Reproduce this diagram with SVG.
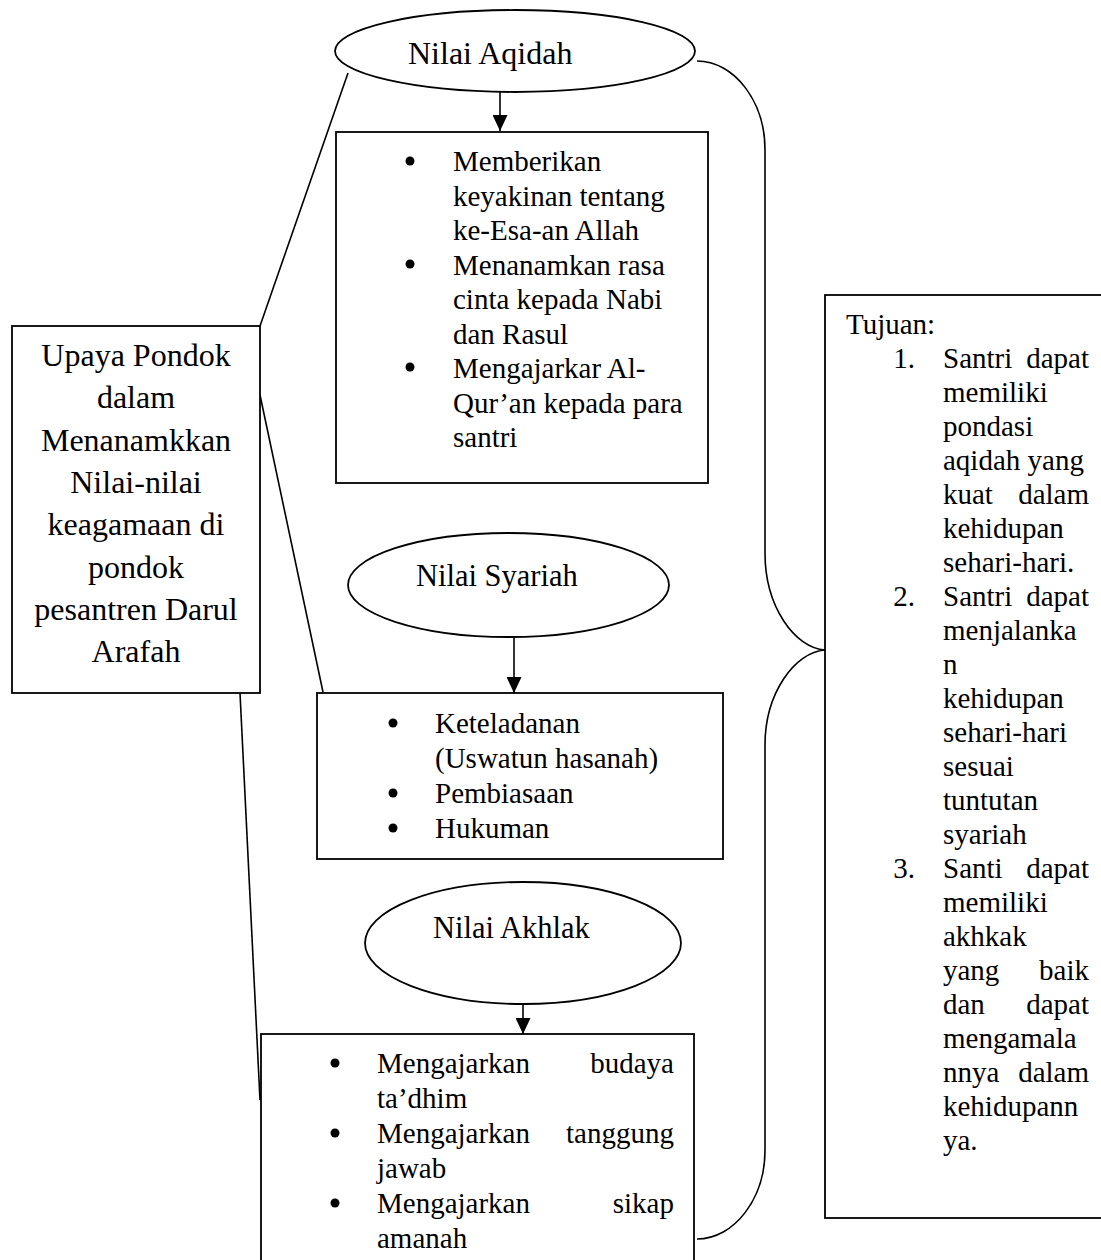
<svg xmlns="http://www.w3.org/2000/svg" width="1101" height="1260" viewBox="0 0 1101 1260">
<style>
.box{fill:#fff;stroke:#000;stroke-width:1.8}
.ell{fill:#fff;stroke:#000;stroke-width:1.8}
.ln{fill:none;stroke:#000;stroke-width:1.6}
text{font-family:"Liberation Serif","Times New Roman",serif;fill:#000}
.t32{font-size:32px}
.t30{font-size:30.5px}
.t29{font-size:29px}
.c{text-anchor:middle}
.e{text-anchor:end}
.dot{fill:#000}
</style>
<defs>
<marker id="ah" markerUnits="userSpaceOnUse" markerWidth="16" markerHeight="15" refX="16" refY="7.5" orient="auto">
<path d="M0,0 L16,7.5 L0,15 z" fill="#000"/>
</marker>
</defs>
<rect width="1101" height="1260" fill="#fff"/>

<g id="connectors">
<line class="ln" x1="260" y1="326" x2="348" y2="73"/>
<line class="ln" x1="260" y1="395" x2="323" y2="692"/>
<line class="ln" x1="240" y1="693" x2="260" y2="1100"/>
<path class="ln" d="M697,61 C734,61 765,101 765,150 L765,553 C765,607 795,648 825,650 C795,652 765,693 765,745 L765,1150 C765,1199 734,1239 697,1239"/>
<line class="ln" x1="500" y1="80" x2="500" y2="131" marker-end="url(#ah)"/>
<line class="ln" x1="514" y1="637" x2="514" y2="693" marker-end="url(#ah)"/>
<line class="ln" x1="523" y1="1004" x2="523" y2="1034" marker-end="url(#ah)"/>
</g>

<g id="nilai-aqidah">
<ellipse class="ell" cx="515" cy="51" rx="180" ry="41"/>
<text class="t32" x="408" y="64">Nilai Aqidah</text>
</g>

<g id="aqidah-list">
<rect class="box" x="336" y="132" width="372" height="351"/>
<circle class="dot" cx="410" cy="161" r="4.5"/>
<circle class="dot" cx="410" cy="264" r="4.5"/>
<circle class="dot" cx="410" cy="367" r="4.5"/>
<text class="t29" x="453" y="171">Memberikan</text>
<text class="t29" x="453" y="205.5">keyakinan tentang</text>
<text class="t29" x="453" y="240">ke-Esa-an Allah</text>
<text class="t29" x="453" y="274.5">Menanamkan rasa</text>
<text class="t29" x="453" y="309">cinta kepada Nabi</text>
<text class="t29" x="453" y="343.5">dan Rasul</text>
<text class="t29" x="453" y="378">Mengajarkar Al-</text>
<text class="t29" x="453" y="412.5">Qur’an kepada para</text>
<text class="t29" x="453" y="447">santri</text>
</g>

<g id="upaya-pondok">
<rect class="box" x="12" y="326" width="248" height="367"/>
<text class="t32 c" x="136" y="366">Upaya Pondok</text>
<text class="t32 c" x="136" y="408.3">dalam</text>
<text class="t32 c" x="136" y="450.6">Menanamkkan</text>
<text class="t32 c" x="136" y="492.9">Nilai-nilai</text>
<text class="t32 c" x="136" y="535.2">keagamaan di</text>
<text class="t32 c" x="136" y="577.5">pondok</text>
<text class="t32 c" x="136" y="619.8">pesantren Darul</text>
<text class="t32 c" x="136" y="662.1">Arafah</text>
</g>

<g id="nilai-syariah">
<ellipse class="ell" cx="508.5" cy="585" rx="160.5" ry="52"/>
<text class="t30" x="416" y="586">Nilai Syariah</text>
</g>

<g id="syariah-list">
<rect class="box" x="317" y="693" width="406" height="166"/>
<circle class="dot" cx="393" cy="723" r="4.5"/>
<circle class="dot" cx="393" cy="793" r="4.5"/>
<circle class="dot" cx="393" cy="828" r="4.5"/>
<text class="t29" x="435" y="733">Keteladanan</text>
<text class="t29" x="435" y="768">(Uswatun hasanah)</text>
<text class="t29" x="435" y="803">Pembiasaan</text>
<text class="t29" x="435" y="838">Hukuman</text>
</g>

<g id="nilai-akhlak">
<ellipse class="ell" cx="523" cy="943" rx="158" ry="61"/>
<text class="t30" x="433" y="938">Nilai Akhlak</text>
</g>

<g id="akhlak-list">
<rect class="box" x="261" y="1034" width="433" height="228"/>
<circle class="dot" cx="335" cy="1063" r="4.5"/>
<circle class="dot" cx="335" cy="1133" r="4.5"/>
<circle class="dot" cx="335" cy="1203" r="4.5"/>
<text class="t29" x="377" y="1073">Mengajarkan</text>
<text class="t29 e" x="674" y="1073">budaya</text>
<text class="t29" x="377" y="1108">ta’dhim</text>
<text class="t29" x="377" y="1143">Mengajarkan</text>
<text class="t29 e" x="674" y="1143">tanggung</text>
<text class="t29" x="377" y="1178">jawab</text>
<text class="t29" x="377" y="1213">Mengajarkan</text>
<text class="t29 e" x="674" y="1213">sikap</text>
<text class="t29" x="377" y="1248">amanah</text>
</g>

<g id="tujuan">
<rect class="box" x="825" y="295" width="290" height="923"/>
<text class="t29" x="846" y="334">Tujuan:</text>
<text class="t29 e" x="915" y="368">1.</text>
<text class="t29" x="943" y="368">Santri</text><text class="t29 e" x="1089" y="368">dapat</text>
<text class="t29" x="943" y="402">memiliki</text>
<text class="t29" x="943" y="436">pondasi</text>
<text class="t29" x="943" y="470">aqidah yang</text>
<text class="t29" x="943" y="504">kuat</text><text class="t29 e" x="1089" y="504">dalam</text>
<text class="t29" x="943" y="538">kehidupan</text>
<text class="t29" x="943" y="572">sehari-hari.</text>
<text class="t29 e" x="915" y="606">2.</text>
<text class="t29" x="943" y="606">Santri</text><text class="t29 e" x="1089" y="606">dapat</text>
<text class="t29" x="943" y="640">menjalanka</text>
<text class="t29" x="943" y="674">n</text>
<text class="t29" x="943" y="708">kehidupan</text>
<text class="t29" x="943" y="742">sehari-hari</text>
<text class="t29" x="943" y="776">sesuai</text>
<text class="t29" x="943" y="810">tuntutan</text>
<text class="t29" x="943" y="844">syariah</text>
<text class="t29 e" x="915" y="878">3.</text>
<text class="t29" x="943" y="878">Santi</text><text class="t29 e" x="1089" y="878">dapat</text>
<text class="t29" x="943" y="912">memiliki</text>
<text class="t29" x="943" y="946">akhkak</text>
<text class="t29" x="943" y="980">yang</text><text class="t29 e" x="1089" y="980">baik</text>
<text class="t29" x="943" y="1014">dan</text><text class="t29 e" x="1089" y="1014">dapat</text>
<text class="t29" x="943" y="1048">mengamala</text>
<text class="t29" x="943" y="1082">nnya</text><text class="t29 e" x="1089" y="1082">dalam</text>
<text class="t29" x="943" y="1116">kehidupann</text>
<text class="t29" x="943" y="1150">ya.</text>
</g>
</svg>
